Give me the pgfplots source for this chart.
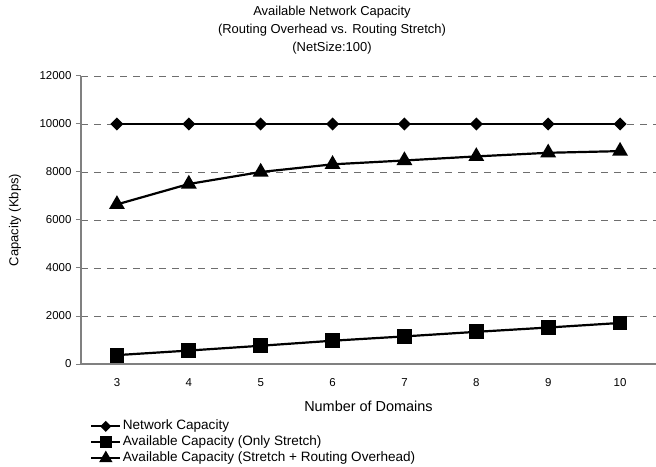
\documentclass[border=0pt]{standalone}
\usepackage{pgfplots}
\pgfplotsset{compat=1.18}
\usepackage{fontspec}
\setmainfont{Liberation Sans}
\definecolor{axisgray}{HTML}{808080}
\definecolor{gridgray}{HTML}{6E6E6E}

\begin{document}
\begin{tikzpicture}
  \begin{axis}[
      at={(0,0)}, anchor=south west,
      scale only axis, width=575bp, height=288bp,
      xmin=2.5, xmax=10.5,
      ymin=0, ymax=12000,
      axis x line*=bottom, axis y line*=left,
      axis line style={axisgray, line width=1.3bp},
      xtick={3,...,10},
      xtick style={draw=none},
      minor xtick={2.5,3.5,...,10.5},
      minor tick length=5bp,
      major tick length=5bp,
      tick align=outside,
      every tick/.style={axisgray, line width=1bp},
      ytick={0,2000,...,12000},
      scaled y ticks=false,
      ymajorgrids,
      grid style={gridgray, line width=0.8bp, dash pattern=on 7bp off 6bp},
      /pgf/number format/1000 sep={},
      /pgf/number format/assume math mode=true,
      tick label style={font=\fontsize{11.5}{13}\selectfont},
      xticklabel style={yshift=-6bp},
      yticklabel style={xshift=-1bp},
      clip=false,
      legend cell align=left,
      legend style={
        at={(axis description cs:0.0157,-0.188)}, anchor=north west,
        draw=none, fill=none, inner sep=0pt,
        font=\fontsize{13.6}{16}\selectfont,
        nodes={text height=10bp, text depth=3bp, inner sep=1.5bp},
        row sep=0bp,
        /tikz/every even column/.append style={column sep=0bp},
      },
      legend image code/.code={
        \draw[mark repeat=2, mark phase=2, #1, every mark/.append style={scale=0.8}]
          plot coordinates {(0bp,0bp) (14.5bp,0bp) (29bp,0bp)};
      },
    ]
    \addplot[black, line width=2.2bp, mark=square*, mark size=3.5bp,
      mark options={rotate=45}] coordinates {
      (3,10000) (4,10000) (5,10000) (6,10000) (7,10000) (8,10000) (9,10000) (10,10000)
    };
    \addlegendentry{Network Capacity}

    \addplot[black, line width=2.2bp, mark=square*, mark size=6.3bp] coordinates {
      (3,370) (4,560) (5,760) (6,970) (7,1150) (8,1340) (9,1520) (10,1710)
    };
    \addlegendentry{Available Capacity (Only Stretch)}

    \addplot[black, line width=2.2bp, mark=triangle*, mark size=7bp] coordinates {
      (3,6650) (4,7500) (5,8000) (6,8320) (7,8480) (8,8650) (9,8800) (10,8870)
    };
    \addlegendentry{Available Capacity (Stretch + Routing Overhead)}
  \end{axis}

  \node[align=center, font=\fontsize{13}{18}\selectfont] at (251bp,334bp)
    {Available Network Capacity\\(Routing Overhead vs. Routing Stretch)\\(NetSize:100)};
  \node[rotate=90, font=\fontsize{13}{15}\selectfont] at (-66bp,144bp) {Capacity (Kbps)};
  \node[font=\fontsize{14.5}{17}\selectfont] at (287.5bp,-42bp) {Number of Domains};

  \pgfresetboundingbox
  \path[use as bounding box] (-81bp,-103bp) rectangle (575bp,364bp);
\end{tikzpicture}
\end{document}
